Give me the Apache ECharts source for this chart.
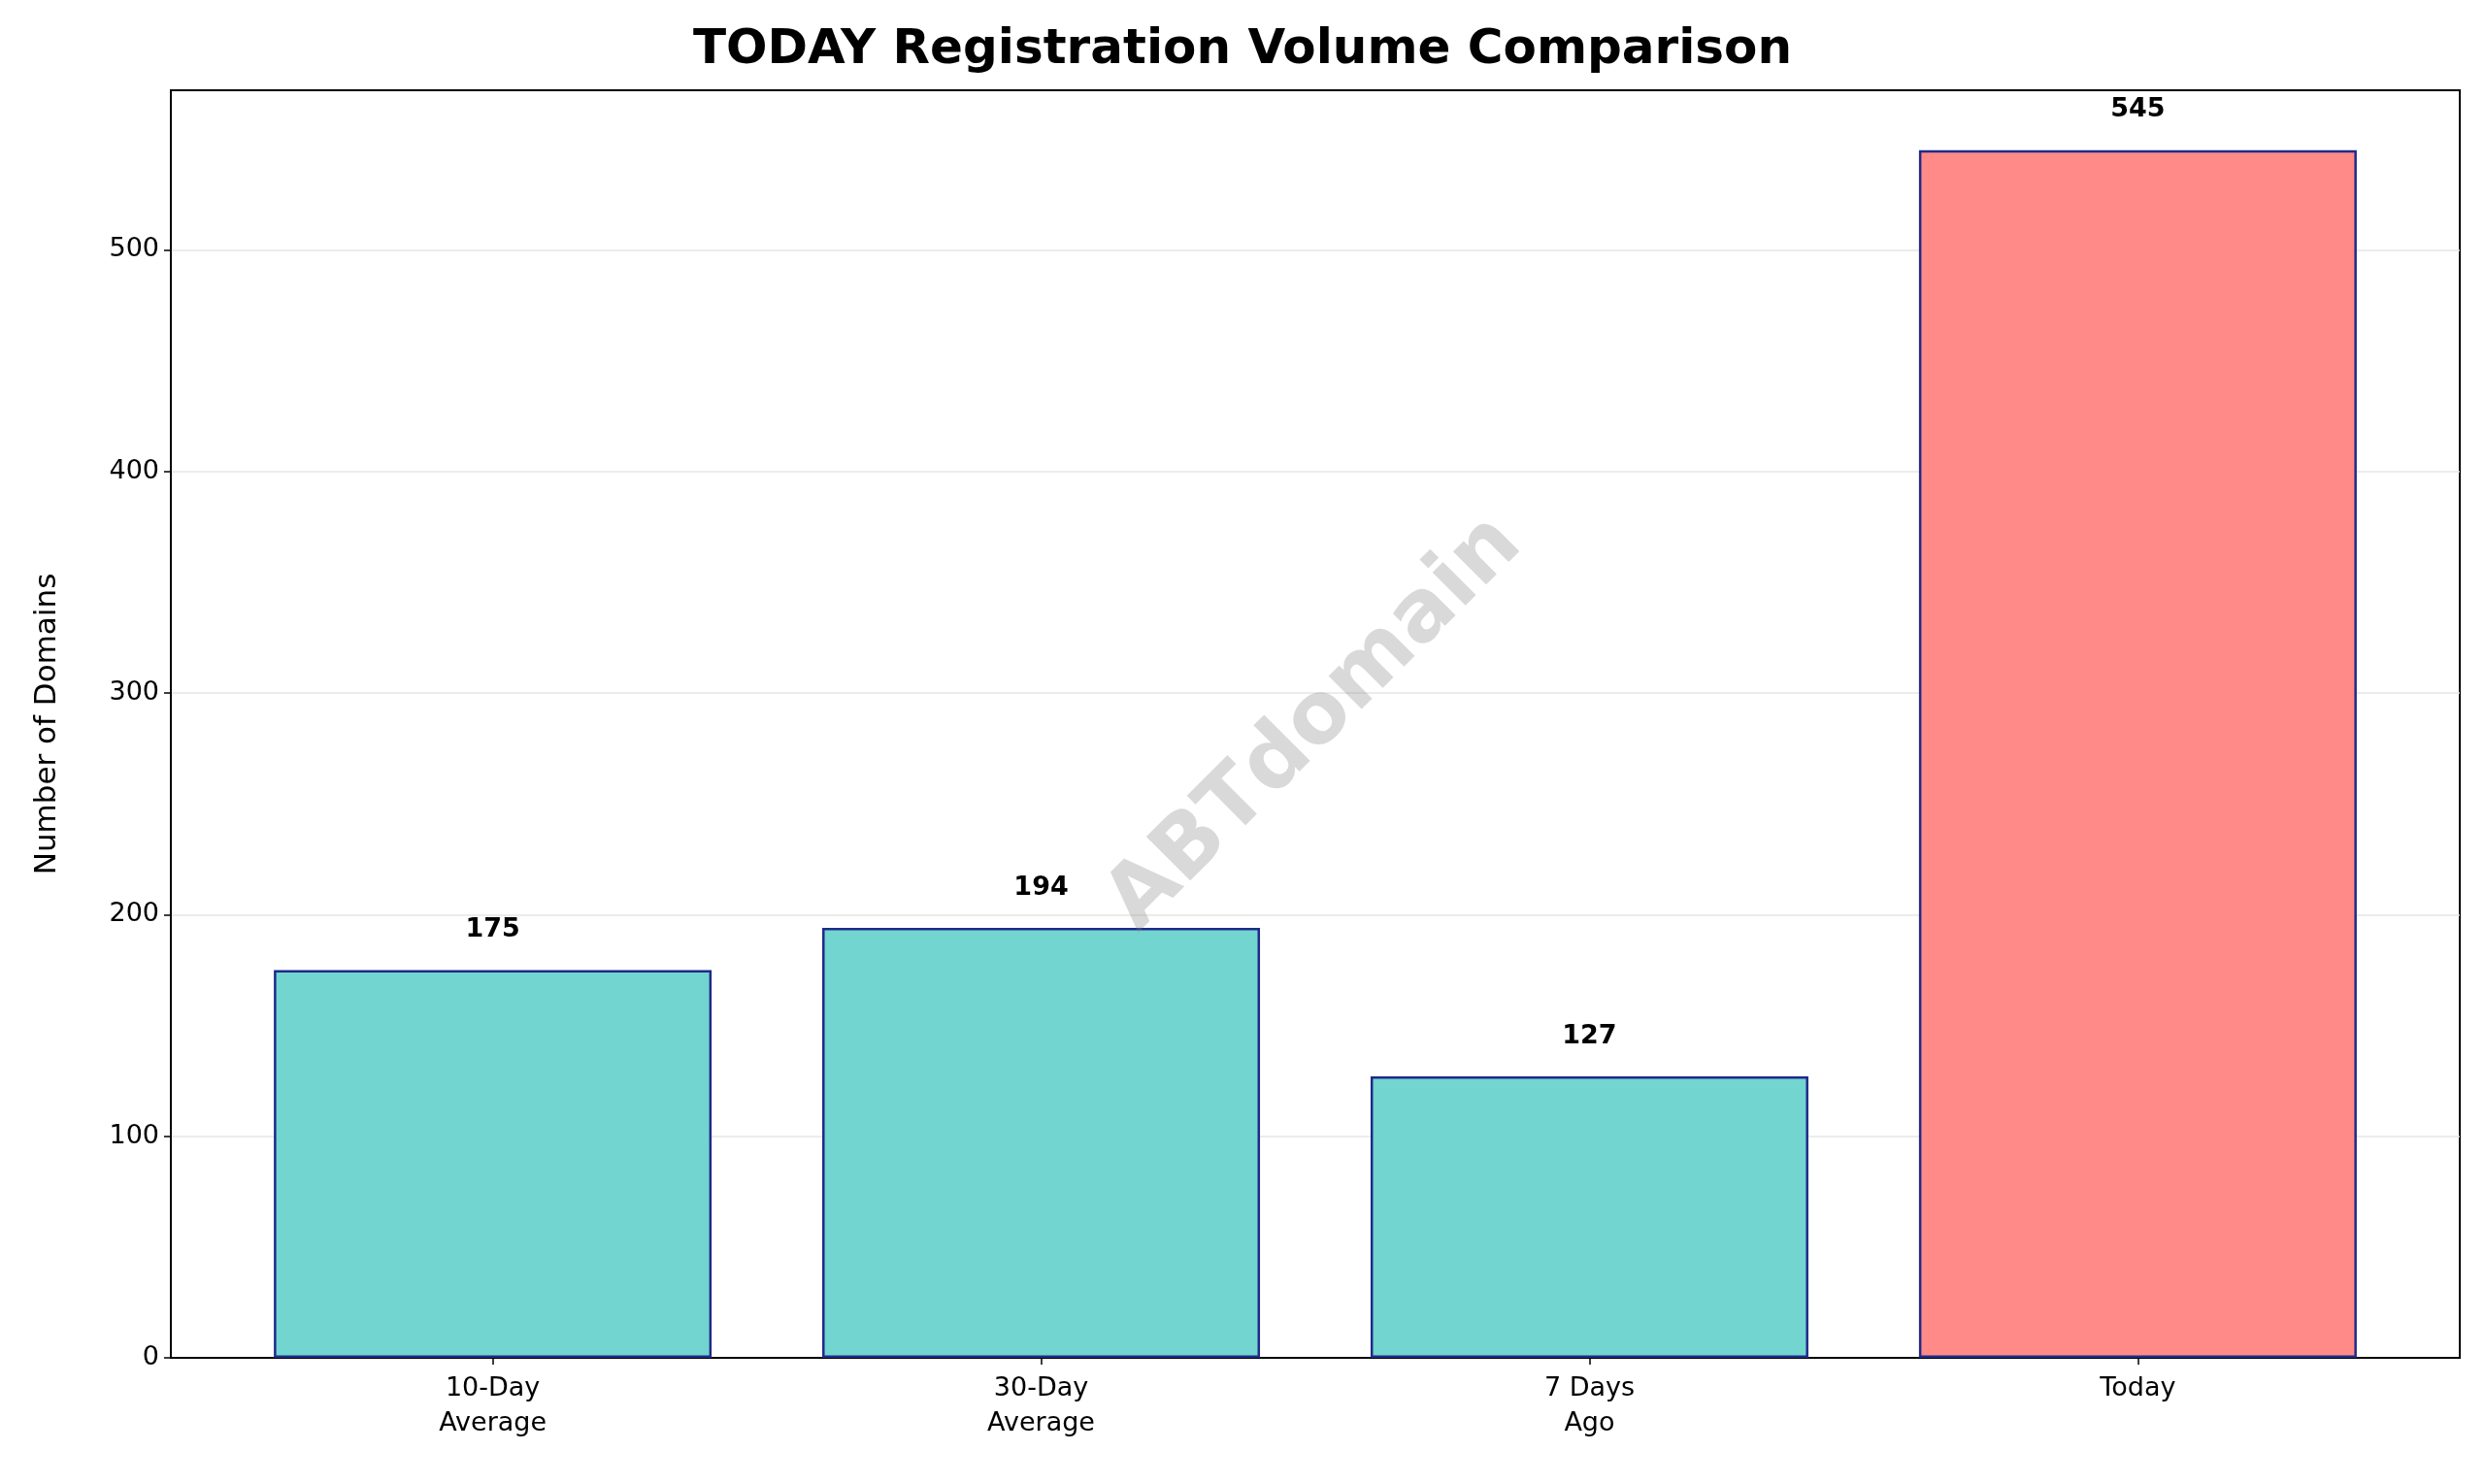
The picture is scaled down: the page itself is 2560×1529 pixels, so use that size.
<!DOCTYPE html>
<html><head><meta charset="utf-8">
<script src="https://cdn.jsdelivr.net/npm/echarts@6/dist/echarts.min.js"></script>
<style>html,body{margin:0;padding:0;background:#fff}#c{width:2560px;height:1529px}</style>
</head><body><div id="c"></div>
<script>
const categories = ['10-Day\nAverage', '30-Day\nAverage', '7 Days\nAgo', 'Today'];
const values = [175, 194, 127, 545];
const barColors = ['#72D5CF', '#72D5CF', '#72D5CF', '#FF8A87'];
const yTicks = [0, 100, 200, 300, 400, 500];

const chart = echarts.init(document.getElementById('c'));
const font = 'DejaVu Sans';
chart.setOption({
  animation: false,
  backgroundColor: '#fff',
  title: { text: 'TODAY Registration Volume Comparison', left: 'center', top: 22,
    textStyle: { fontFamily: font, fontWeight: 'bold', fontSize: 50, color: '#000' } },
  grid: { left: 176, right: 26, top: 93, bottom: 130, show: true, borderColor: '#000', borderWidth: 2, backgroundColor: 'transparent' },
  xAxis: { type: 'value', min: -0.587, max: 3.587, interval: 1,
    axisLine: { show: true, onZero: false, lineStyle: { color: '#000', width: 2 } }, splitLine: { show: false },
    axisLabel: { fontFamily: font, fontSize: 27, color: '#000', margin: 14, lineHeight: 36,
      customValues: [0,1,2,3], formatter: v => categories[Math.round(v)] ?? '' },
    axisTick: { show: true, length: 7, customValues: [0,1,2,3], lineStyle: { color: '#000', width: 1.5 } } },
  yAxis: { type: 'value', min: 0, max: 572,
    name: 'Number of Domains', nameLocation: 'middle', nameGap: 112,
    nameTextStyle: { fontFamily: font, fontSize: 31, color: '#000' },
    axisLine: { show: true, onZero: false, lineStyle: { color: '#000', width: 2 } },
    axisTick: { show: true, length: 7, customValues: yTicks, lineStyle: { color: '#000', width: 1.5 } },
    axisLabel: { fontFamily: font, fontSize: 27, color: '#000', margin: 12, customValues: yTicks },
    splitLine: { show: true, lineStyle: { color: '#e6e6e6', width: 1.5 } } },
  series: [{
    type: 'bar', barWidth: 451,
    data: values.map((v, i) => ({ value: [i, v], itemStyle: { color: barColors[i] } })),
    itemStyle: { borderColor: '#1f2a8a', borderWidth: 2.5 },
    label: { show: true, position: 'top', distance: 28, formatter: p => p.value[1],
      fontFamily: font, fontWeight: 'bold', fontSize: 27, color: '#000' }
  }],
  graphic: [{ type: 'text', x: 1355, y: 746, rotation: Math.PI / 4,
    style: { text: 'ABTdomain', fontFamily: font, fontWeight: 'bold', fontSize: 88,
      fill: 'rgba(128,128,128,0.3)', textAlign: 'center', textVerticalAlign: 'middle' }, z: 100 }]
});
</script></body></html>
